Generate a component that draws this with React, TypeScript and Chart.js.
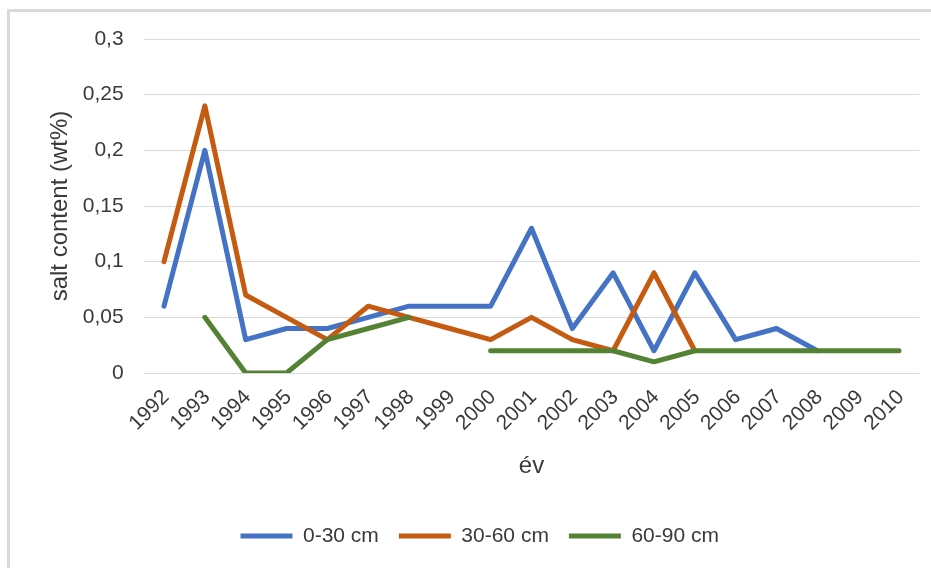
import React, { useEffect, useRef } from 'react';
import { Chart, registerables } from 'chart.js';

Chart.register(...registerables);

const years = ['1992', '1993', '1994', '1995', '1996', '1997', '1998', '1999', '2000', '2001', '2002', '2003', '2004', '2005', '2006', '2007', '2008', '2009', '2010'];
const depth0to30: (number | null)[] = [0.06, 0.2, 0.03, 0.04, 0.04, 0.05, 0.06, 0.06, 0.06, 0.13, 0.04, 0.09, 0.02, 0.09, 0.03, 0.04, 0.02, null, null];
const depth30to60: (number | null)[] = [0.1, 0.24, 0.07, 0.05, 0.03, 0.06, 0.05, 0.04, 0.03, 0.05, 0.03, 0.02, 0.09, 0.02, null, null, null, null, null];
const depth60to90: (number | null)[] = [null, 0.05, 0, 0, 0.03, 0.04, 0.05, null, 0.02, 0.02, 0.02, 0.02, 0.01, 0.02, 0.02, 0.02, 0.02, 0.02, 0.02];
const seriesNames = ['0-30 cm', '30-60 cm', '60-90 cm'];
const yTicks = [0, 0.05, 0.1, 0.15, 0.2, 0.25, 0.3];
const yTickLabels = ['0', '0,05', '0,1', '0,15', '0,2', '0,25', '0,3'];
const xTitle = 'év';
const yTitle = 'salt content (wt%)';

const FONT = '"Liberation Sans", Arial, sans-serif';
const TEXT = '#3a3a3a';

export default function App() {
  const ref = useRef<HTMLCanvasElement | null>(null);

  useEffect(() => {
    if (!ref.current) return;
    Chart.defaults.font.family = FONT;
    Chart.defaults.color = TEXT;
    const common = {
      borderWidth: 5,
      pointRadius: 0,
      pointHoverRadius: 0,
      tension: 0,
      borderCapStyle: 'round' as const,
      borderJoinStyle: 'round' as const,
      spanGaps: false,
      fill: false,
    };
    const chart = new Chart(ref.current, {
      type: 'line',
      data: {
        labels: years,
        datasets: [
          { ...common, label: seriesNames[0], data: depth0to30, borderColor: '#4472C4', backgroundColor: '#4472C4', order: 2 },
          { ...common, label: seriesNames[1], data: depth30to60, borderColor: '#C55A11', backgroundColor: '#C55A11', order: 1 },
          { ...common, label: seriesNames[2], data: depth60to90, borderColor: '#548235', backgroundColor: '#548235', order: 0 },
        ],
      },
      options: {
        responsive: false,
        animation: false,
        devicePixelRatio: 1,
        layout: { padding: { left: 40, right: 11.6, top: 39, bottom: 11.5 } },
        plugins: {
          tooltip: { enabled: false },
          legend: {
            position: 'bottom',
            labels: {
              usePointStyle: true,
              pointStyle: 'line',
              pointStyleWidth: 52,
              boxHeight: 21,
              padding: 20,
              font: { size: 21 },
              color: TEXT,
              sort: (a: any, b: any) => a.datasetIndex - b.datasetIndex,
            },
          },
        },
        scales: {
          x: {
            type: 'category',
            offset: true,
            grid: { display: false, drawTicks: false },
            border: { display: false },
            ticks: {
              minRotation: 45,
              maxRotation: 45,
              autoSkip: false,
              padding: 12,
              labelOffset: 2,
              font: { size: 21 },
              color: TEXT,
            },
            title: {
              display: true,
              text: xTitle,
              font: { size: 24 },
              color: TEXT,
              padding: 25,
            },
            afterFit: (scale: any) => {
              scale.height = 132.5;
            },
          },
          y: {
            min: 0,
            max: 0.3,
            afterBuildTicks: (scale: any) => {
              scale.ticks = yTicks.map((v) => ({ value: v }));
            },
            grid: { color: '#d9d9d9', lineWidth: 1, drawTicks: false },
            border: { display: false },
            ticks: {
              padding: 20,
              font: { size: 21 },
              color: TEXT,
              callback: (value: any) => {
                const i = yTicks.findIndex((t) => Math.abs(t - Number(value)) < 1e-9);
                return i >= 0 ? yTickLabels[i] : '';
              },
            },
            title: {
              display: true,
              text: yTitle,
              font: { size: 24 },
              color: TEXT,
              padding: 6,
            },
            afterFit: (scale: any) => {
              scale.width = 103.6;
            },
          },
        },
      },
    });
    return () => chart.destroy();
  }, []);

  return (
    <div style={{ position: 'fixed', left: 0, top: 0, width: 931, height: 568, overflow: 'hidden', background: '#fff' }}>
      <div style={{ position: 'absolute', left: 7, top: 9, width: 960, height: 600, border: '3px solid #d9d9d9', boxSizing: 'border-box' }} />
      <canvas ref={ref} width={931} height={568} style={{ position: 'absolute', left: 0, top: 0, width: 931, height: 568 }} />
    </div>
  );
}
